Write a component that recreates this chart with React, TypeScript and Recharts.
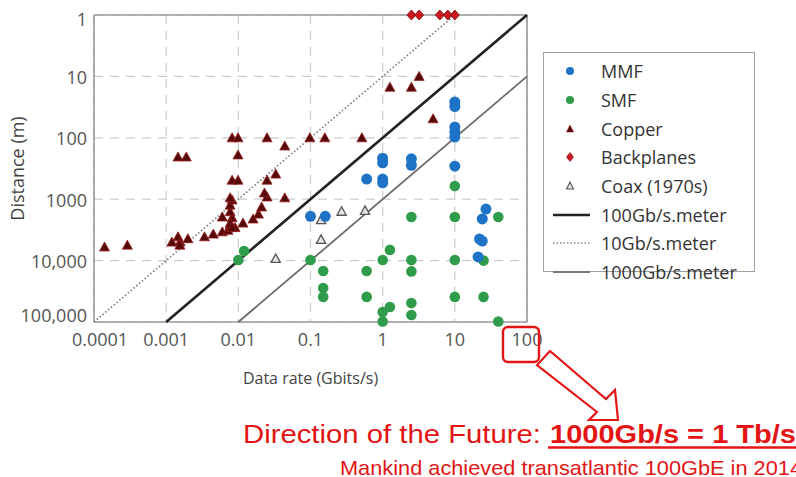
import React from 'react';
import {
    ScatterChart,
    Scatter,
    XAxis,
    YAxis,
    CartesianGrid,
    ReferenceLine,
} from 'recharts';

// data rate (Gbit/s) vs distance (m)
const xTicks = [0.0001, 0.001, 0.01, 0.1, 1, 10, 100];
const xTickLabels = ['0.0001', '0.001', '0.01', '0.1', '1', '10', '100'];
const yTicks = [1, 10, 100, 1000, 10000, 100000];
const yTickLabels = ['1', '10', '100', '1000', '10,000', '100,000'];

const mmf = [
    { x: 10, y: 26 }, { x: 10, y: 31 }, { x: 10, y: 67 }, { x: 10, y: 80 }, { x: 10, y: 97 },
    { x: 10, y: 290 }, { x: 1, y: 215 }, { x: 1, y: 255 }, { x: 2.5, y: 220 }, { x: 2.5, y: 280 },
    { x: 0.6, y: 470 }, { x: 1, y: 470 }, { x: 1, y: 540 }, { x: 0.1, y: 1900 }, { x: 0.16, y: 1900 },
    { x: 27, y: 1450 }, { x: 24, y: 2100 }, { x: 22, y: 4450 }, { x: 24, y: 4800 }, { x: 21, y: 8700 },
];

const smf = [
    { x: 0.01, y: 9800 }, { x: 0.012, y: 7000 }, { x: 0.1, y: 9800 }, { x: 0.15, y: 14800 },
    { x: 0.15, y: 28000 }, { x: 0.15, y: 39000 }, { x: 0.6, y: 14800 }, { x: 0.6, y: 39000 },
    { x: 1, y: 9800 }, { x: 1.26, y: 6700 }, { x: 1, y: 69000 }, { x: 1.26, y: 57000 },
    { x: 1, y: 98000 }, { x: 2.5, y: 1950 }, { x: 2.5, y: 9800 }, { x: 2.5, y: 15000 },
    { x: 2.5, y: 49000 }, { x: 2.5, y: 77000 }, { x: 10, y: 610 }, { x: 10, y: 1950 },
    { x: 10, y: 9800 }, { x: 10, y: 39000 }, { x: 25, y: 10000 }, { x: 25, y: 39000 },
    { x: 40, y: 1950 }, { x: 40, y: 98000 },
];

const copper = [
    { x: 0.00014, y: 6000 }, { x: 0.00029, y: 5600 }, { x: 0.0012, y: 5000 }, { x: 0.00146, y: 4100 },
    { x: 0.00155, y: 5000 }, { x: 0.00155, y: 5600 }, { x: 0.002, y: 4400 }, { x: 0.0034, y: 4100 },
    { x: 0.0045, y: 3700 }, { x: 0.006, y: 3400 }, { x: 0.0072, y: 3200 }, { x: 0.0077, y: 2600 },
    { x: 0.0082, y: 2000 }, { x: 0.0077, y: 1600 }, { x: 0.0077, y: 1250 }, { x: 0.0082, y: 1030 },
    { x: 0.0077, y: 950 }, { x: 0.006, y: 1950 }, { x: 0.009, y: 2900 }, { x: 0.0077, y: 2450 },
    { x: 0.0082, y: 2900 }, { x: 0.0116, y: 2450 }, { x: 0.016, y: 2100 }, { x: 0.019, y: 1750 },
    { x: 0.021, y: 1340 }, { x: 0.025, y: 920 }, { x: 0.023, y: 790 }, { x: 0.025, y: 490 },
    { x: 0.033, y: 390 }, { x: 0.044, y: 950 }, { x: 0.0082, y: 490 }, { x: 0.0099, y: 490 },
    { x: 0.00146, y: 205 }, { x: 0.0019, y: 205 }, { x: 0.0082, y: 100 }, { x: 0.0099, y: 100 },
    { x: 0.0099, y: 190 }, { x: 0.025, y: 100 }, { x: 0.044, y: 136 }, { x: 0.098, y: 100 },
    { x: 0.158, y: 100 }, { x: 0.515, y: 100 }, { x: 1.26, y: 15 }, { x: 2.5, y: 15 },
    { x: 3.2, y: 10 }, { x: 5, y: 49 },
];

const backplanes = [
    { x: 2.5, y: 1 }, { x: 3.2, y: 1 }, { x: 6.2, y: 1 }, { x: 8, y: 1 }, { x: 10, y: 1 },
];

const coax = [
    { x: 0.033, y: 9400 }, { x: 0.14, y: 2200 }, { x: 0.14, y: 4600 }, { x: 0.27, y: 1600 }, { x: 0.57, y: 1550 },
];

// rate x distance = constant lines, end points
const line100 = [{ x: 0.001, y: 100000 }, { x: 100, y: 1 }];
const line10 = [{ x: 0.0001, y: 100000 }, { x: 10, y: 1 }];
const line1000 = [{ x: 0.01, y: 100000 }, { x: 100, y: 10 }];

const BLUE = '#1f73c6';
const GREEN = '#2e9c4a';
const RED = '#e31414';
const TICK_COLOR = '#555';

const NoDot = () => <g />;

const Dot = (color: string, r: number) => (p: any) => (
    <circle cx={p.cx} cy={p.cy} r={r} fill={color} />
);

const CopperMark = (p: any) => (
    <polygon
        points={`${p.cx},${p.cy - 5} ${p.cx + 5},${p.cy + 4} ${p.cx - 5},${p.cy + 4}`}
        fill="#560909"
        stroke="#9a2020"
        strokeWidth={0.8}
    />
);

const CoaxMark = (p: any) => (
    <polygon
        points={`${p.cx},${p.cy - 5} ${p.cx + 4.6},${p.cy + 3.5} ${p.cx - 4.6},${p.cy + 3.5}`}
        fill="#e6e6e6"
        stroke="#555"
        strokeWidth={1.3}
    />
);

const DiamondMark = (p: any) => (
    <polygon
        points={`${p.cx},${p.cy - 5} ${p.cx + 4.5},${p.cy} ${p.cx},${p.cy + 5} ${p.cx - 4.5},${p.cy}`}
        fill="#cc1820"
        stroke="#7a0a0a"
        strokeWidth={0.8}
    />
);

// tick labels at the plot corners are pulled inward, as in the original
const XTick = (p: any) => {
    const i = p.index;
    const shift = i === 0 ? 6 : 0;
    return (
        <text x={p.x + shift} y={p.y} dy="0.71em" textAnchor="middle" fontSize={18} fill={TICK_COLOR} fontFamily="Open Sans">
            {xTickLabels[i]}
        </text>
    );
};

const YTick = (p: any) => {
    const i = p.index;
    const shift = i === 0 ? 5 : i === yTickLabels.length - 1 ? -6 : 1;
    return (
        <text x={p.x} y={p.y + shift} dy="0.355em" textAnchor="end" fontSize={18} fill={TICK_COLOR} fontFamily="Open Sans">
            {yTickLabels[i]}
        </text>
    );
};

const legendItems = [
    { label: 'MMF', kind: 'dot', color: BLUE },
    { label: 'SMF', kind: 'dot', color: GREEN },
    { label: 'Copper', kind: 'tri', color: '#560909' },
    { label: 'Backplanes', kind: 'diamond', color: '#cc1820' },
    { label: 'Coax (1970s)', kind: 'coax', color: '#555' },
    { label: '100Gb/s.meter', kind: 'solid', color: '#222' },
    { label: '10Gb/s.meter', kind: 'dotted', color: '#888' },
    { label: '1000Gb/s.meter', kind: 'thin', color: '#777' },
];

function LegendMark({ kind, color }: { kind: string; color: string }) {
    return (
        <svg width={40} height={20} style={{ display: 'block' }}>
            {kind === 'dot' && <circle cx={17} cy={10} r={4} fill={color} />}
            {kind === 'tri' && <polygon points="17,6 20.5,13 13.5,13" fill={color} stroke="#9a2020" strokeWidth={0.6} />}
            {kind === 'diamond' && <polygon points="17,5.5 20.5,10 17,14.5 13.5,10" fill={color} stroke="#7a0a0a" strokeWidth={0.6} />}
            {kind === 'coax' && <polygon points="17,6 20.5,13 13.5,13" fill="#e6e6e6" stroke={color} strokeWidth={1.1} />}
            {kind === 'solid' && <line x1={0} x2={37} y1={10} y2={10} stroke={color} strokeWidth={2.6} />}
            {kind === 'dotted' && <line x1={0} x2={37} y1={10} y2={10} stroke={color} strokeWidth={1.4} strokeDasharray="1.5 2" />}
            {kind === 'thin' && <line x1={0} x2={37} y1={10} y2={10} stroke={color} strokeWidth={1.8} />}
        </svg>
    );
}

export default function App() {
    return (
        <div
            style={{
                position: 'absolute',
                left: 0,
                top: 0,
                width: 796,
                height: 477,
                overflow: 'hidden',
                background: '#fff',
                fontFamily: 'Open Sans',
            }}
        >
            <ScatterChart width={796} height={477} margin={{ top: 15, right: 269, bottom: 85, left: 0 }}>
                <CartesianGrid strokeDasharray="9 7" stroke="#cdcdcd" strokeWidth={1.2} />
                <XAxis
                    type="number"
                    dataKey="x"
                    scale="log"
                    domain={[0.0001, 100]}
                    ticks={xTicks}
                    tick={<XTick />}
                    tickLine={false}
                    tickSize={0}
                    tickMargin={11}
                    height={70}
                    axisLine={{ stroke: '#9a9a9a', strokeWidth: 1.6 }}
                    interval={0}
                    label={{
                        value: 'Data rate (Gbits/s)',
                        position: 'insideBottom',
                        offset: 8,
                        style: { fontSize: 16, fill: '#444', fontFamily: 'Open Sans' },
                    }}
                />
                <YAxis
                    type="number"
                    dataKey="y"
                    scale="log"
                    domain={[1, 100000]}
                    reversed
                    ticks={yTicks}
                    tick={<YTick />}
                    tickLine={false}
                    tickSize={0}
                    tickMargin={7}
                    width={94}
                    axisLine={{ stroke: '#9a9a9a', strokeWidth: 1.6 }}
                    interval={0}
                    label={{
                        value: 'Distance (m)',
                        angle: -90,
                        position: 'insideLeft',
                        offset: 18,
                        style: { textAnchor: 'middle', fontSize: 18, fill: '#444', fontFamily: 'Open Sans' },
                    }}
                />
                <ReferenceLine y={1} stroke="#9a9a9a" strokeWidth={1.6} />
                <ReferenceLine x={100} stroke="#9a9a9a" strokeWidth={1.6} />
                <Scatter data={line10} line={{ stroke: '#777', strokeWidth: 1.6, strokeDasharray: '1.5 2.2' }} shape={NoDot} isAnimationActive={false} />
                <Scatter data={line100} line={{ stroke: '#222', strokeWidth: 2.6 }} shape={NoDot} isAnimationActive={false} />
                <Scatter data={line1000} line={{ stroke: '#6a6a6a', strokeWidth: 1.8 }} shape={NoDot} isAnimationActive={false} />
                <Scatter name="Copper" data={copper} shape={CopperMark} isAnimationActive={false} />
                <Scatter name="Coax (1970s)" data={coax} shape={CoaxMark} isAnimationActive={false} />
                <Scatter name="SMF" data={smf} shape={Dot(GREEN, 5.3)} isAnimationActive={false} />
                <Scatter name="MMF" data={mmf} shape={Dot(BLUE, 5.5)} isAnimationActive={false} />
                <Scatter name="Backplanes" data={backplanes} shape={DiamondMark} isAnimationActive={false} />
            </ScatterChart>

            <div
                style={{
                    position: 'absolute',
                    left: 543,
                    top: 52,
                    width: 212,
                    height: 220,
                    border: '1.6px solid #a0a0a0',
                    paddingTop: 4,
                    boxSizing: 'border-box',
                }}
            >
                {legendItems.map((it) => (
                    <div
                        key={it.label}
                        style={{ display: 'flex', alignItems: 'center', height: 28.7, marginLeft: 9 }}
                    >
                        <LegendMark kind={it.kind} color={it.color} />
                        <span style={{ fontSize: 18, color: '#333', marginLeft: 8, whiteSpace: 'nowrap' }}>{it.label}</span>
                    </div>
                ))}
            </div>

            <svg width={796} height={477} style={{ position: 'absolute', left: 0, top: 0, pointerEvents: 'none' }}>
                <rect x={503} y={327} width={36} height={35} rx={5} fill="none" stroke={RED} strokeWidth={2.4} />
                <polygon
                    points="550,351 606,399 615,390 618,420 589,420 597,412 537,365"
                    fill="#fff"
                    stroke={RED}
                    strokeWidth={2.2}
                    strokeLinejoin="miter"
                />
                <text x={243} y={443} fontSize={25} fill={RED} fontFamily="Liberation Sans, Arial" textLength={298} lengthAdjust="spacingAndGlyphs">
                    Direction of the Future:
                </text>
                <text x={550} y={443} fontSize={25} fontWeight="bold" fill={RED} fontFamily="Liberation Sans, Arial" textLength={246} lengthAdjust="spacingAndGlyphs">
                    1000Gb/s = 1 Tb/s
                </text>
                <line x1={548} x2={796} y1={447.5} y2={447.5} stroke={RED} strokeWidth={2.4} />
                <text x={340} y={475} fontSize={21} fill={RED} fontFamily="Liberation Sans, Arial" textLength={462} lengthAdjust="spacingAndGlyphs">
                    Mankind achieved transatlantic 100GbE in 2014
                </text>
            </svg>
        </div>
    );
}
